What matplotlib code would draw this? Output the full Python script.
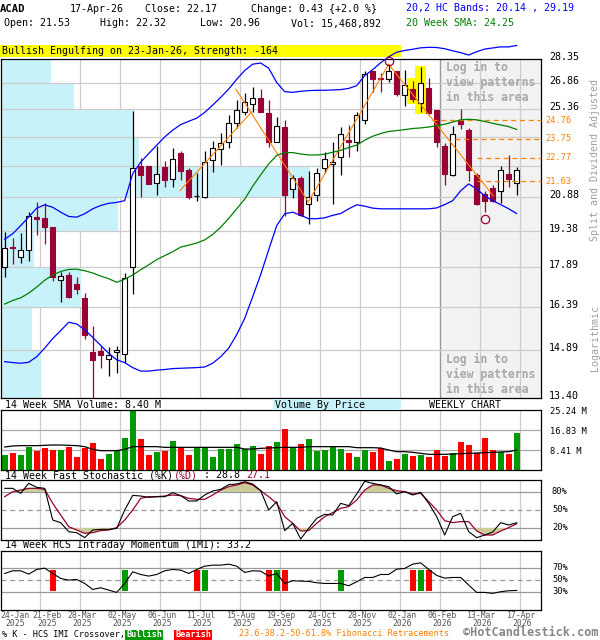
import numpy as np
import matplotlib
matplotlib.use('Agg')
import matplotlib.pyplot as plt
from matplotlib.patches import Rectangle
from matplotlib.transforms import blended_transform_factory

plt.rcParams['font.family'] = ['DejaVu Sans Mono']

W, H = 600, 640

# weekly candles, 24-Jan-2025 .. 17-Apr-2026
opens = [17.88, 18.72, 18.28, 18.60, 19.98, 19.95, 19.54, 17.38, 17.57, 17.24,
         16.72, 14.83, 14.85, 14.60, 14.83, 14.76, 17.88, 22.35, 22.37, 21.54,
         22.32, 21.73, 23.04, 22.18, 20.93, 20.91, 22.67, 23.21, 23.59, 24.60,
         25.22, 25.65, 25.99, 25.15, 23.59, 24.40, 21.26, 21.79, 20.57, 20.99,
         22.26, 22.49, 22.82, 23.68, 23.59, 24.74, 27.61, 27.18, 27.13, 27.57,
         26.17, 26.51, 25.70, 26.57, 25.31, 23.39, 21.91, 24.77, 24.22, 21.95,
         21.02, 21.31, 21.15, 21.99, 21.53]
highs = [19.35, 19.06, 19.30, 20.20, 20.64, 20.62, 19.56, 17.70, 17.70, 17.52,
         16.88, 15.70, 15.02, 14.99, 15.02, 17.66, 25.27, 22.77, 22.39, 23.39,
         22.61, 23.25, 23.11, 22.27, 22.03, 23.11, 23.63, 24.08, 25.06, 25.88,
         26.28, 26.61, 26.51, 25.90, 24.92, 24.74, 21.91, 21.88, 22.11, 22.26,
         23.08, 23.59, 24.38, 24.47, 25.18, 27.57, 27.61, 27.47, 28.01, 27.62,
         27.66, 26.99, 27.82, 27.18, 25.31, 23.51, 24.45, 25.36, 24.33, 22.03,
         21.18, 21.46, 22.35, 22.92, 22.32]
lows = [17.52, 18.01, 18.04, 18.12, 19.19, 18.83, 17.34, 16.57, 16.70, 16.86,
        15.28, 13.38, 14.31, 14.07, 14.17, 14.47, 16.86, 20.87, 21.50, 20.99,
        21.34, 21.34, 21.71, 20.79, 20.72, 20.86, 22.06, 22.40, 23.28, 24.33,
        25.01, 25.18, 25.18, 23.32, 23.59, 20.03, 20.85, 20.03, 19.66, 20.72,
        22.03, 20.57, 21.94, 22.82, 23.13, 24.56, 26.32, 26.32, 26.90, 26.09,
        25.51, 25.74, 25.18, 25.09, 23.34, 21.46, 21.88, 24.28, 21.62, 20.50,
        20.19, 20.64, 20.62, 21.37, 20.96]
closes = [18.68, 18.66, 18.57, 20.03, 19.91, 19.57, 17.52, 17.55, 16.76, 17.06,
          15.39, 14.58, 14.72, 14.72, 14.91, 17.47, 22.26, 21.95, 21.52, 21.97,
          21.67, 22.72, 22.10, 20.90, 20.95, 22.56, 23.28, 23.54, 24.61, 25.31,
          25.74, 25.97, 25.22, 23.59, 24.44, 20.99, 21.78, 20.06, 20.87, 22.02,
          22.74, 22.56, 24.03, 23.59, 25.04, 27.43, 27.13, 27.11, 27.57, 26.22,
          26.76, 25.94, 26.84, 25.13, 23.56, 21.99, 23.99, 24.52, 22.15, 20.57,
          20.72, 20.72, 22.19, 21.74, 22.17]

# 20,2 HC bands and 20 week SMA
band_upper = [19.03, 19.26, 19.61, 19.98, 20.38, 20.53, 20.42, 20.20, 20.01, 19.98,
              20.13, 20.35, 20.50, 20.60, 20.64, 20.72, 21.99, 22.56, 22.99, 23.42,
              23.85, 24.21, 24.51, 24.69, 24.86, 25.18, 25.59, 26.03, 26.51, 27.09,
              27.62, 28.01, 28.08, 27.76, 26.90, 26.36, 26.32, 26.38, 26.42, 26.44,
              26.44, 26.46, 26.48, 26.55, 26.71, 27.31, 27.67, 28.10, 28.47, 28.76,
              28.87, 28.95, 29.04, 29.07, 29.06, 28.98, 28.85, 28.73, 28.58, 28.79,
              28.96, 29.03, 29.10, 29.10, 29.19]
band_lower = [14.52, 14.49, 14.47, 14.50, 14.68, 14.96, 15.28, 15.55, 15.84, 15.78,
              15.58, 15.32, 15.05, 14.79, 14.58, 14.49, 14.33, 14.22, 14.22, 14.25,
              14.27, 14.30, 14.31, 14.32, 14.33, 14.35, 14.47, 14.68, 14.96, 15.41,
              15.98, 16.76, 17.60, 18.59, 19.61, 20.13, 20.20, 20.06, 19.91, 19.91,
              19.95, 20.06, 20.14, 20.35, 20.53, 20.47, 20.38, 20.35, 20.35, 20.35,
              20.35, 20.35, 20.35, 20.35, 20.39, 20.54, 20.72, 21.18, 21.50, 21.26,
              20.94, 20.72, 20.54, 20.35, 20.14]
sma20 = [16.49, 16.62, 16.72, 16.89, 17.12, 17.38, 17.58, 17.72, 17.80, 17.81,
         17.75, 17.66, 17.54, 17.44, 17.30, 17.42, 17.58, 17.79, 17.98, 18.19,
         18.35, 18.51, 18.70, 18.78, 18.87, 19.00, 19.23, 19.54, 19.92, 20.35,
         20.79, 21.39, 21.94, 22.47, 22.90, 23.04, 23.04, 22.97, 22.92, 22.92,
         22.96, 23.06, 23.16, 23.30, 23.42, 23.68, 23.89, 24.03, 24.14, 24.19,
         24.24, 24.30, 24.33, 24.38, 24.45, 24.53, 24.65, 24.77, 24.80, 24.77,
         24.68, 24.58, 24.49, 24.40, 24.25]

# volume in millions, with 14 week SMA
volume = [6.31, 7.15, 6.31, 9.82, 7.99, 9.25, 8.41, 8.41, 9.68, 5.47,
          9.25, 11.36, 4.63, 6.73, 8.41, 13.46, 25.00, 13.04, 6.31, 7.57,
          7.99, 12.20, 9.25, 6.31, 9.25, 9.82, 5.47, 8.83, 8.83, 10.94,
          8.83, 10.10, 6.73, 10.10, 11.78, 17.25, 9.25, 10.94, 13.04, 7.99,
          8.41, 10.10, 8.83, 7.15, 5.47, 8.41, 7.57, 9.25, 3.79, 4.63,
          6.73, 5.89, 6.31, 5.47, 8.41, 5.89, 7.15, 11.78, 10.52, 7.15,
          13.46, 8.41, 7.71, 6.73, 15.47]
vol_sma = [9.68, 10.10, 10.24, 10.24, 10.24, 10.38, 10.52, 10.52, 10.38, 10.24,
           9.82, 8.69, 8.13, 8.13, 8.13, 8.69, 9.82, 9.82, 9.82, 9.82,
           9.53, 9.53, 9.53, 9.53, 9.53, 9.53, 9.53, 9.53, 9.53, 9.53,
           8.83, 8.83, 9.11, 9.25, 9.39, 9.53, 9.53, 9.53, 9.82, 9.82,
           9.82, 9.82, 9.82, 9.82, 9.39, 9.39, 9.39, 9.25, 8.41, 7.71,
           7.71, 7.43, 7.01, 6.59, 6.59, 6.59, 6.73, 6.87, 7.01, 7.15,
           7.29, 7.43, 7.57, 7.71, 8.40]

# 14 week fast stochastic
stoch_k = [86.1, 86.1, 77.8, 94.4, 87.8, 86.1, 33.3, 28.9, 13.9, 12.2,
           3.9, 16.7, 17.8, 17.8, 19.4, 50.0, 74.4, 73.3, 71.1, 72.2,
           72.2, 78.9, 73.9, 65.0, 65.0, 75.0, 81.7, 84.4, 92.2, 93.3,
           97.2, 93.3, 82.2, 50.0, 63.9, 15.6, 27.8, 1.7, 19.4, 36.1,
           42.8, 41.7, 61.1, 57.2, 76.7, 97.8, 94.4, 91.7, 88.9, 76.7,
           80.6, 75.0, 79.4, 61.1, 38.9, 8.3, 38.9, 44.4, 13.9, 3.9,
           8.3, 13.3, 28.9, 25.0, 28.8]
stoch_d = [72.2, 80.6, 83.3, 86.1, 86.1, 84.4, 61.1, 41.7, 22.2, 16.7,
           11.1, 12.2, 15.6, 16.7, 20.6, 33.3, 50.0, 69.4, 72.2, 72.2,
           73.3, 75.0, 73.9, 69.4, 67.8, 67.8, 75.0, 83.3, 88.9, 91.7,
           95.6, 91.7, 82.2, 72.2, 61.1, 38.9, 27.8, 15.0, 15.6, 27.8,
           38.9, 45.6, 52.8, 55.6, 66.7, 83.3, 91.7, 91.7, 86.1, 82.2,
           80.6, 76.7, 77.8, 63.9, 50.0, 32.2, 28.9, 30.6, 30.6, 15.0,
           8.3, 8.3, 15.0, 20.6, 27.1]

# 14 week HCS intraday momentum
imi = [61.6, 66.1, 66.1, 60.5, 68.3, 70.5, 61.6, 53.3, 50.5, 51.6,
       44.9, 34.9, 37.7, 33.8, 29.9, 44.9, 64.4, 59.9, 57.2, 59.9,
       66.1, 68.3, 67.2, 61.6, 68.3, 73.8, 75.5, 75.5, 77.2, 73.8,
       63.3, 66.1, 65.5, 57.2, 61.6, 44.9, 49.4, 48.8, 48.3, 46.1,
       44.9, 44.9, 44.9, 41.1, 47.7, 54.9, 54.9, 59.9, 59.9, 68.8,
       70.0, 77.2, 79.4, 68.3, 58.3, 53.8, 54.9, 54.9, 42.2, 29.9,
       29.9, 28.3, 31.1, 32.7, 33.2]
bull_cross = [15, 25, 34, 42, 52]
bear_cross = [6, 24, 33, 35, 51, 53]

price_ticks = [28.35, 26.86, 25.36, 23.87, 22.37, 20.88, 19.38, 17.89, 16.39, 14.89, 13.40]
hidden_ticks = [23.87, 22.37]
# volume by price, share of panel width in %, one bin per grid band (top first)
vbp_share = [9.3, 13.5, 24.6, 25.6, 57.2, 21.7, 6.1, 14.8, 5.7, 7.4]

fib_levels = [24.76, 23.75, 22.77, 21.63]
fib_start = [53.4, 56.3, 59.0, 59.0]
zigzag = [((21.9, 21.18), (30.9, 25.22)),
          ((28.9, 26.51), (37.95, 20.66)),
          ((37.95, 20.66), (48.0, 28.0)),
          ((48.0, 28.0), (61.1, 20.93))]
pattern_boxes = [(50.3, 51.4, 25.65, 27.15), (51.3, 52.7, 25.09, 27.89)]
swing_marks = [(48, 28.21), (60, 19.91)]

date_idx = [0, 4, 9, 14, 19, 24, 29, 34, 39, 44, 49, 54, 59, 64]
date_days = ['24-Jan', '21-Feb', '28-Mar', '02-May', '06-Jun', '11-Jul', '15-Aug',
             '19-Sep', '24-Oct', '28-Nov', '02-Jan', '06-Feb', '13-Mar', '17-Apr']
date_years = ['2025'] * 10 + ['2026'] * 4

RED = '#990033'
ORANGE = '#ff8000'
VGREEN = '#009900'
VRED = '#ff0000'
GRID = '#cccccc'

x = np.arange(len(closes))
opens, highs, lows, closes = map(np.array, (opens, highs, lows, closes))
up = closes >= opens

# candle i sits at pixel 4.7 + 8*i
x_lo = (1 - 4.7) / 8
x_hi = (541 - 4.7) / 8
grid_x = [4.41 + 5 * k for k in range(13)]


def px_rect(x0, y0, x1, y1):
    return [x0 / W, 1 - y1 / H, (x1 - x0) / W, (y1 - y0) / H]


def fx(px):
    return px / W


def fy(py):
    return 1 - py / H


def style_panel(ax):
    ax.set_xlim(x_lo, x_hi)
    ax.tick_params(which='both', left=False, bottom=False, labelleft=False, labelbottom=False)
    for s in ax.spines.values():
        s.set_linewidth(0.9)
        s.set_color('black')
    for gx in grid_x:
        ax.axvline(gx, color=GRID, lw=0.9, zorder=0.8)


fig = plt.figure(figsize=(W / 100, H / 100), dpi=100)

# ---------------- price panel ----------------
ax = fig.add_axes(px_rect(1, 58.7, 541, 398))
ax.set_yscale('log')
ax.set_ylim(13.40, 28.35)
style_panel(ax)
ax.yaxis.set_minor_locator(matplotlib.ticker.NullLocator())
ax.set_yticks([])

ax.axvspan(54.41, x_hi, color='#f2f2f2', zorder=0.5, lw=0)
ax.axvline(54.41, color='#999999', lw=0.9, zorder=0.9)

axes_y = blended_transform_factory(ax.transAxes, ax.transData)
for k in range(len(vbp_share)):
    top, bot = price_ticks[k], price_ticks[k + 1]
    ax.add_patch(Rectangle((0, bot), vbp_share[k] / 100, top - bot, transform=axes_y,
                           facecolor='#c8f2fa', edgecolor='none', zorder=1))
for p in price_ticks[1:-1]:
    ax.axhline(p, color=GRID, lw=0.9, zorder=1.1)

for x0, x1, p0, p1 in pattern_boxes:
    ax.add_patch(Rectangle((x0, p0), x1 - x0, p1 - p0, facecolor='#ffff00', edgecolor='none', zorder=1.5))

wick_col = np.where(up, 'black', RED)
ax.vlines(x, lows, highs, colors=wick_col, lw=0.9, zorder=2)
body_face = np.where(up, 'white', RED)
body_edge = np.where(up, 'black', RED)
ax.bar(x, closes - opens, bottom=opens, width=0.62, color=body_face, edgecolor=body_edge,
       lw=0.8, zorder=3)

ax.plot(x, band_upper, color='#0000ff', lw=0.9, zorder=6, clip_on=False)
ax.plot(x, band_lower, color='#0000ff', lw=0.9, zorder=6)
ax.plot(x, sma20, color='#008000', lw=0.9, zorder=6)

for (a, pa), (b, pb) in zigzag:
    ax.plot([a, b], [pa, pb], color=ORANGE, lw=0.8, zorder=5)
for lvl, start in zip(fib_levels, fib_start):
    ax.plot([start, x_hi], [lvl, lvl], color=ORANGE, lw=0.9, ls=(0, (4, 3)), zorder=5, clip_on=False)
    ax.annotate(f'{lvl:.2f}', xy=(544 / 540, lvl), xycoords=axes_y, color=ORANGE,
                fontsize=6.2, va='center', ha='left', annotation_clip=False)
for i, p in swing_marks:
    ax.plot(i, p, 'o', ms=6, mfc='none', mec=RED, mew=0.9, zorder=7, clip_on=False)

for p in price_ticks:
    if p in hidden_ticks:
        continue
    ax.annotate(f'{p:.2f}', xy=(548 / 540, p), xycoords=axes_y, xytext=(0, 1.5),
                textcoords='offset points', fontsize=7.2, va='center', ha='left',
                annotation_clip=False)

for k, line in enumerate(['Log in to', 'view patterns', 'in this area']):
    for y0 in (67.3, 359.3):
        fig.text(fx(446.5), fy(y0 + 15 * k), line, color='#a8a8a8', fontsize=8.3,
                 fontweight='bold', va='center', ha='left')

# yellow pattern banner, drawn inside the price axes so the band passes over it
ax.add_patch(Rectangle((0, fy(57)), fx(401), 12 / H, transform=fig.transFigure,
                       facecolor='#ffff00', edgecolor='none', clip_on=False, zorder=1))
ax.text(fx(2), fy(51), 'Bullish Engulfing on 23-Jan-26, Strength: -164', transform=fig.transFigure,
        fontsize=7.2, va='center', ha='left', zorder=2, clip_on=False)

fig.text(fx(595), fy(160), 'Split and Dividend Adjusted', rotation=90, color='#a0a0a0',
         fontsize=7.2, va='center', ha='center')
fig.text(fx(595), fy(338), 'Logarithmic', rotation=90, color='#a0a0a0',
         fontsize=7.2, va='center', ha='center')

# header
fig.text(fx(0), fy(9), 'ACAD', fontsize=7.6, fontweight='bold', va='center')
fig.text(fx(70), fy(9), '17-Apr-26', fontsize=7.2, va='center')
fig.text(fx(145), fy(9), 'Close: 22.17', fontsize=7.2, va='center')
fig.text(fx(251), fy(9), 'Change: 0.43 {+2.0 %}', fontsize=7.2, va='center')
fig.text(fx(4.5), fy(23.5), 'Open: 21.53', fontsize=7.2, va='center')
fig.text(fx(100), fy(23.5), 'High: 22.32', fontsize=7.2, va='center')
fig.text(fx(200), fy(23.5), 'Low: 20.96', fontsize=7.2, va='center')
fig.text(fx(291), fy(23.5), 'Vol: 15,468,892', fontsize=7.2, va='center')
fig.text(fx(406), fy(7.5), '20,2 HC Bands: 20.14 , 29.19', color='#0000ff', fontsize=7.2, va='center')
fig.text(fx(406), fy(22.5), '20 Week SMA: 24.25', color='#008000', fontsize=7.2, va='center')

# ---------------- volume panel ----------------
axv = fig.add_axes(px_rect(1, 410, 541, 470))
axv.set_ylim(0, 25.24)
style_panel(axv)
for v in (8.41, 16.83):
    axv.axhline(v, color='#aaaaaa', lw=0.9, zorder=0.9)
axv.bar(x, volume, width=0.75, color=np.where(up, VGREEN, VRED), zorder=2)
axv.plot(x, vol_sma, color='black', lw=0.9, zorder=3)
for v in (25.24, 16.83, 8.41):
    axv.annotate(f'{v:.2f} M', xy=(549 / 540, v), xycoords=blended_transform_factory(axv.transAxes, axv.transData),
                 xytext=(0, -1), textcoords='offset points', fontsize=6.3, va='center',
                 ha='left', annotation_clip=False)
fig.text(fx(5), fy(405.5), '14 Week SMA Volume: 8.40 M', fontsize=7.2, va='center')
fig.patches.append(Rectangle((fx(273), fy(410)), 128 / W, 11.5 / H, transform=fig.transFigure,
                             facecolor='#c8f2fa', edgecolor='none'))
fig.text(fx(275), fy(405.5), 'Volume By Price', fontsize=7.2, va='center')
fig.text(fx(429), fy(405.5), 'WEEKLY CHART', fontsize=7.2, va='center')

# ---------------- stochastic panel ----------------
axs = fig.add_axes(px_rect(1, 480, 541, 540))
axs.set_ylim(0, 100)
style_panel(axs)
axs.axhline(80, color='#999999', lw=0.9, zorder=0.9)
axs.axhline(20, color='#999999', lw=0.9, zorder=0.9)
axs.axhline(50, color='#999999', lw=0.9, ls=(0, (4, 3)), zorder=0.9)
sd = np.array(stoch_d)
axs.fill_between(x, sd, 80, where=sd > 80, interpolate=True, color='#cccc99', lw=0, zorder=1)
axs.fill_between(x, sd, 20, where=sd < 20, interpolate=True, color='#cccc99', lw=0, zorder=1)
axs.plot(x, stoch_k, color='black', lw=0.8, zorder=3)
axs.plot(x, stoch_d, color=RED, lw=0.9, zorder=2)
for v, py in ((80, 492), (50, 510), (20, 528)):
    fig.text(fx(552), fy(py), f'{v}%', fontsize=6.3, va='center')

cw = 6.02
cursor = 5
for part, col in (('14 Week Fast Stochastic (%K)', 'black'), ('(%D)', RED),
                  (' : 28.8 ', 'black'), ('27.1', RED)):
    fig.text(fx(cursor), fy(475.5), part, color=col, fontsize=7.2, va='center')
    cursor += cw * len(part)

# ---------------- IMI panel ----------------
axi = fig.add_axes(px_rect(1, 550.5, 541, 610.3))
axi.set_ylim(0, 100)
style_panel(axi)
axi.axhline(70, color='#999999', lw=0.9, zorder=0.9)
axi.axhline(30, color='#999999', lw=0.9, zorder=0.9)
axi.axhline(50, color='#999999', lw=0.9, ls=(0, (4, 3)), zorder=0.9)
axi.bar(bull_cross, 34, bottom=33, width=0.75, color=VGREEN, zorder=2)
axi.bar(bear_cross, 34, bottom=33, width=0.75, color=VRED, zorder=2)
axi.plot(x, imi, color='black', lw=0.8, zorder=3)
for v, py in ((70, 568), (50, 580), (30, 592)):
    fig.text(fx(552), fy(py), f'{v}%', fontsize=6.3, va='center')
fig.text(fx(5), fy(545.5), '14 Week HCS Intraday Momentum (IMI): 33.2', fontsize=7.2, va='center')

# date axis; the first two labels are pushed right so they fit
for k, (i, d, yr) in enumerate(zip(date_idx, date_days, date_years)):
    xp = 4.7 + 8 * i + 5
    if k == 0:
        xp = 15
    elif k == 1:
        xp = 47
    fig.text(fx(xp), fy(615), d, color='#555555', fontsize=5.9, ha='center', va='center')
    fig.text(fx(xp), fy(623), yr, color='#555555', fontsize=5.9, ha='center', va='center')

# legend line
fig.text(fx(1.5), fy(634), '% K - HCS IMI Crossover,', fontsize=6.1, va='center')
fig.patches.append(Rectangle((fx(125), fy(640)), 38 / W, 10.5 / H, transform=fig.transFigure,
                             facecolor=VGREEN, edgecolor='none'))
fig.text(fx(144), fy(634.5), 'Bullish', color='white', fontsize=6.1, fontweight='bold',
         ha='center', va='center')
fig.patches.append(Rectangle((fx(174), fy(640)), 38 / W, 10.5 / H, transform=fig.transFigure,
                             facecolor=VRED, edgecolor='none'))
fig.text(fx(193), fy(634.5), 'Bearish', color='white', fontsize=6.1, fontweight='bold',
         ha='center', va='center')
fig.text(fx(239), fy(634), '23.6-38.2-50-61.8% Fibonacci Retracements', color=ORANGE,
         fontsize=6.1, va='center')
fig.text(fx(463), fy(633), '\u00a9HotCandlestick.com', color='#888888', fontsize=8.6,
         fontweight='bold', va='center')

fig.savefig('out.png', dpi=100)
